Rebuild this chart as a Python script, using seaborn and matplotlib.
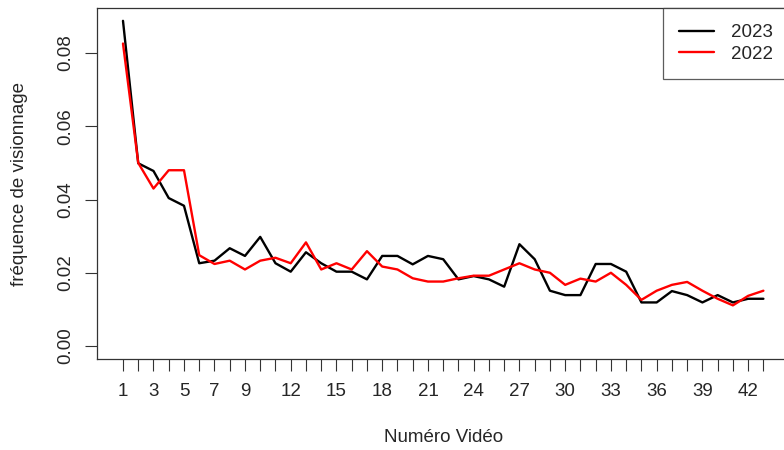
import pandas as pd
import matplotlib
matplotlib.use('Agg')
import matplotlib.pyplot as plt
import seaborn as sns

# viewing frequency per video
videos = list(range(1, 44))
freq_2023 = [0.0888, 0.0499, 0.0478, 0.0404, 0.0383, 0.0226, 0.0233, 0.0267, 0.0246, 0.0298,
             0.0226, 0.0203, 0.0256, 0.0226, 0.0203, 0.0203, 0.0182, 0.0246, 0.0246, 0.0223,
             0.0246, 0.0237, 0.0182, 0.0191, 0.0182, 0.0162, 0.0278, 0.0237, 0.0151, 0.0139,
             0.0139, 0.0224, 0.0224, 0.0203, 0.0119, 0.0119, 0.0150, 0.0139, 0.0119, 0.0139,
             0.0119, 0.0129, 0.0129]
freq_2022 = [0.0826, 0.0500, 0.0430, 0.0480, 0.0480, 0.0248, 0.0224, 0.0233, 0.0209, 0.0233,
             0.0241, 0.0226, 0.0283, 0.0209, 0.0226, 0.0209, 0.0259, 0.0217, 0.0209, 0.0185,
             0.0176, 0.0176, 0.0185, 0.0192, 0.0192, 0.0209, 0.0226, 0.0209, 0.0200, 0.0167,
             0.0184, 0.0176, 0.0200, 0.0167, 0.0126, 0.0151, 0.0167, 0.0175, 0.0151, 0.0129,
             0.0111, 0.0137, 0.0151]
years = ['2023', '2022']
colors = ['black', 'red']
xtick_labels = [1, 3, 5, 7, 9, 12, 15, 18, 21, 24, 27, 30, 33, 36, 39, 42]
yticks = [0.00, 0.02, 0.04, 0.06, 0.08]

df = pd.concat([
    pd.DataFrame({'video': videos, 'freq': freq_2023, 'year': '2023'}),
    pd.DataFrame({'video': videos, 'freq': freq_2022, 'year': '2022'}),
])

sns.set_style('ticks')
plt.rcParams['font.family'] = ['Liberation Sans', 'DejaVu Sans']
plt.rcParams['font.size'] = 13.5

fig = plt.figure(figsize=(7.84, 4.5), dpi=100)
ax = fig.add_axes([0.1242, 0.2022, 0.8822, 0.78])

sns.lineplot(data=df, x='video', y='freq', hue='year', hue_order=years,
             palette=dict(zip(years, colors)), linewidth=1.7, ax=ax)

ax.set_xlim(-0.68, 44.68)
ax.set_ylim(-0.00355, 0.0923)
ax.set_xticks(videos)
ax.set_xticklabels([str(v) if v in xtick_labels else '' for v in videos])
ax.set_yticks(yticks)
ax.set_yticklabels(['%.2f' % v for v in yticks], rotation=90, va='center')
ax.tick_params(axis='both', length=8.5, width=0.8, color='#333333', labelsize=13.5, pad=9)
ax.tick_params(axis='y', pad=8)
for s in ax.spines.values():
    s.set_visible(True)
    s.set_linewidth(0.9)
    s.set_color('#333333')

ax.set_xlabel('Numéro Vidéo', fontsize=13.5)
ax.set_ylabel('fréquence de visionnage', fontsize=13.5)
ax.xaxis.set_label_coords(0.5, -0.225)
ax.yaxis.set_label_coords(-0.112, 0.5)
ax.xaxis.label.set_va('center')
ax.yaxis.label.set_va('center')

leg = ax.legend(loc='upper right', borderaxespad=0, frameon=True, fancybox=False,
                edgecolor='#333333', handlelength=1.9, handletextpad=0.9,
                labelspacing=0.25, borderpad=0.85, fontsize=13.5)
leg.get_frame().set_linewidth(0.9)

fig.savefig('out.png', dpi=100)
